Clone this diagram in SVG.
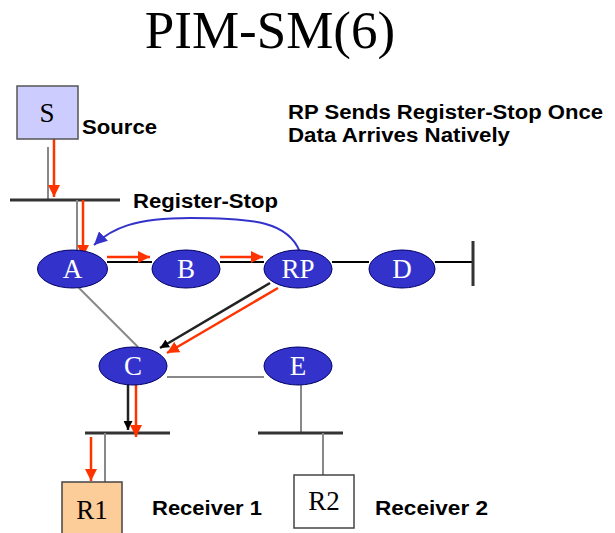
<svg xmlns="http://www.w3.org/2000/svg" width="615" height="533" viewBox="0 0 615 533">
<defs>
<marker id="red" viewBox="0 0 10 10" refX="10" refY="5" markerWidth="12" markerHeight="12" markerUnits="userSpaceOnUse" orient="auto"><path d="M0,0 L10,5 L0,10 z" fill="#ff3300"/></marker>
<marker id="blk" viewBox="0 0 10 10" refX="10" refY="5" markerWidth="9" markerHeight="9" markerUnits="userSpaceOnUse" orient="auto"><path d="M0,0 L10,5 L0,10 z" fill="#000"/></marker>
<marker id="blu" viewBox="0 0 10 10" refX="10" refY="5" markerWidth="13" markerHeight="13" markerUnits="userSpaceOnUse" orient="auto"><path d="M0,0 L10,5 L0,10 z" fill="#3333cc"/></marker>
</defs>
<style>
.lbl{font-family:"Liberation Sans",Arial,sans-serif;font-weight:bold;font-size:20px;fill:#000}
.tm{font-family:"Liberation Serif","Times New Roman",serif;font-size:27px;text-anchor:middle}
.node ellipse{fill:#3333cc;stroke:#000066;stroke-width:1}
.node text{fill:#fff}
.gray{stroke:#888;stroke-width:2;fill:none}
.bus{stroke:#333;stroke-width:3;fill:none}
.red{stroke:#ff3300;stroke-width:2.5;fill:none;marker-end:url(#red)}
.blk{stroke:#222;stroke-width:2.5;fill:none;marker-end:url(#blk)}
</style>
<rect width="615" height="533" fill="#fff"/>
<text x="270" y="48" font-family="'Liberation Serif','Times New Roman',serif" font-size="53" text-anchor="middle">PIM-SM(6)</text>
<g id="connectors">
<line class="gray" x1="48" y1="147" x2="48" y2="200"/>
<line class="bus" x1="10" y1="200" x2="120" y2="200"/>
<line class="gray" x1="77" y1="200" x2="77" y2="252"/>
<line x1="107" y1="262" x2="152" y2="262" stroke="#000" stroke-width="2"/>
<line x1="220" y1="262" x2="264" y2="262" stroke="#000" stroke-width="2"/>
<line x1="332" y1="262" x2="369" y2="262" stroke="#000" stroke-width="2"/>
<line x1="435" y1="262" x2="473" y2="262" stroke="#000" stroke-width="2"/>
<line x1="473" y1="241" x2="473" y2="286" stroke="#333" stroke-width="3"/>
<line class="gray" x1="78" y1="287" x2="138" y2="347"/>
<line class="gray" x1="167" y1="377" x2="264" y2="377"/>
<line class="gray" x1="301" y1="385" x2="301" y2="433"/>
<line class="bus" x1="85" y1="433" x2="170" y2="433"/>
<line class="bus" x1="258" y1="433" x2="343" y2="433"/>
<line class="gray" x1="105" y1="433" x2="105" y2="482"/>
<line class="gray" x1="323" y1="433" x2="323" y2="475"/>
<line class="red" x1="54" y1="139" x2="54" y2="197"/>
<line class="red" x1="83" y1="200" x2="83" y2="257"/>
<line class="red" x1="107" y1="257" x2="150" y2="257"/>
<line class="red" x1="220" y1="257" x2="263" y2="257"/>
<line class="blk" x1="270" y1="283" x2="160" y2="348"/>
<line class="red" x1="278" y1="288" x2="167" y2="353"/>
<line class="blk" x1="128" y1="384" x2="128" y2="430"/>
<line class="red" x1="136" y1="378" x2="136" y2="437"/>
<line class="red" x1="91" y1="437" x2="91" y2="481"/>
<path d="M300,252 C288,222 255,218 190,218 C135,218 112,228 94,245" stroke="#3333cc" stroke-width="2" fill="none" marker-end="url(#blu)"/>
</g>
<g id="S"><rect x="17" y="86" width="61" height="53" fill="#ccccff" stroke="#555" stroke-width="1.5"/><text class="tm" x="47" y="122">S</text></g>
<g id="A" class="node"><ellipse cx="72.5" cy="269" rx="35" ry="19"/><text class="tm" x="72.5" y="278">A</text></g>
<g id="B" class="node"><ellipse cx="186" cy="269" rx="34" ry="19"/><text class="tm" x="186" y="278">B</text></g>
<g id="RP" class="node"><ellipse cx="298" cy="269" rx="34" ry="19"/><text class="tm" x="298" y="278">RP</text></g>
<g id="D" class="node"><ellipse cx="402" cy="269" rx="33" ry="19"/><text class="tm" x="402" y="278">D</text></g>
<g id="C" class="node"><ellipse cx="133" cy="366" rx="34" ry="19"/><text class="tm" x="133" y="375">C</text></g>
<g id="E" class="node"><ellipse cx="298" cy="366" rx="34" ry="19"/><text class="tm" x="298" y="375">E</text></g>
<g id="R1"><rect x="62" y="482" width="60" height="60" fill="#fccc99" stroke="#444" stroke-width="1.5"/><text class="tm" x="92" y="519">R1</text></g>
<g id="R2"><rect x="294" y="475" width="60" height="53" fill="#fff" stroke="#444" stroke-width="1.5"/><text class="tm" x="324" y="510">R2</text></g>
<text class="lbl" x="82" y="134" textLength="75" lengthAdjust="spacingAndGlyphs">Source</text>
<text class="lbl" x="133" y="208" textLength="145" lengthAdjust="spacingAndGlyphs">Register-Stop</text>
<text class="lbl" x="288" y="119" textLength="315" lengthAdjust="spacingAndGlyphs">RP Sends Register-Stop Once</text>
<text class="lbl" x="288" y="142" textLength="222" lengthAdjust="spacingAndGlyphs">Data Arrives Natively</text>
<text class="lbl" x="152" y="515" textLength="110" lengthAdjust="spacingAndGlyphs">Receiver 1</text>
<text class="lbl" x="375" y="515" textLength="113" lengthAdjust="spacingAndGlyphs">Receiver 2</text>
</svg>
